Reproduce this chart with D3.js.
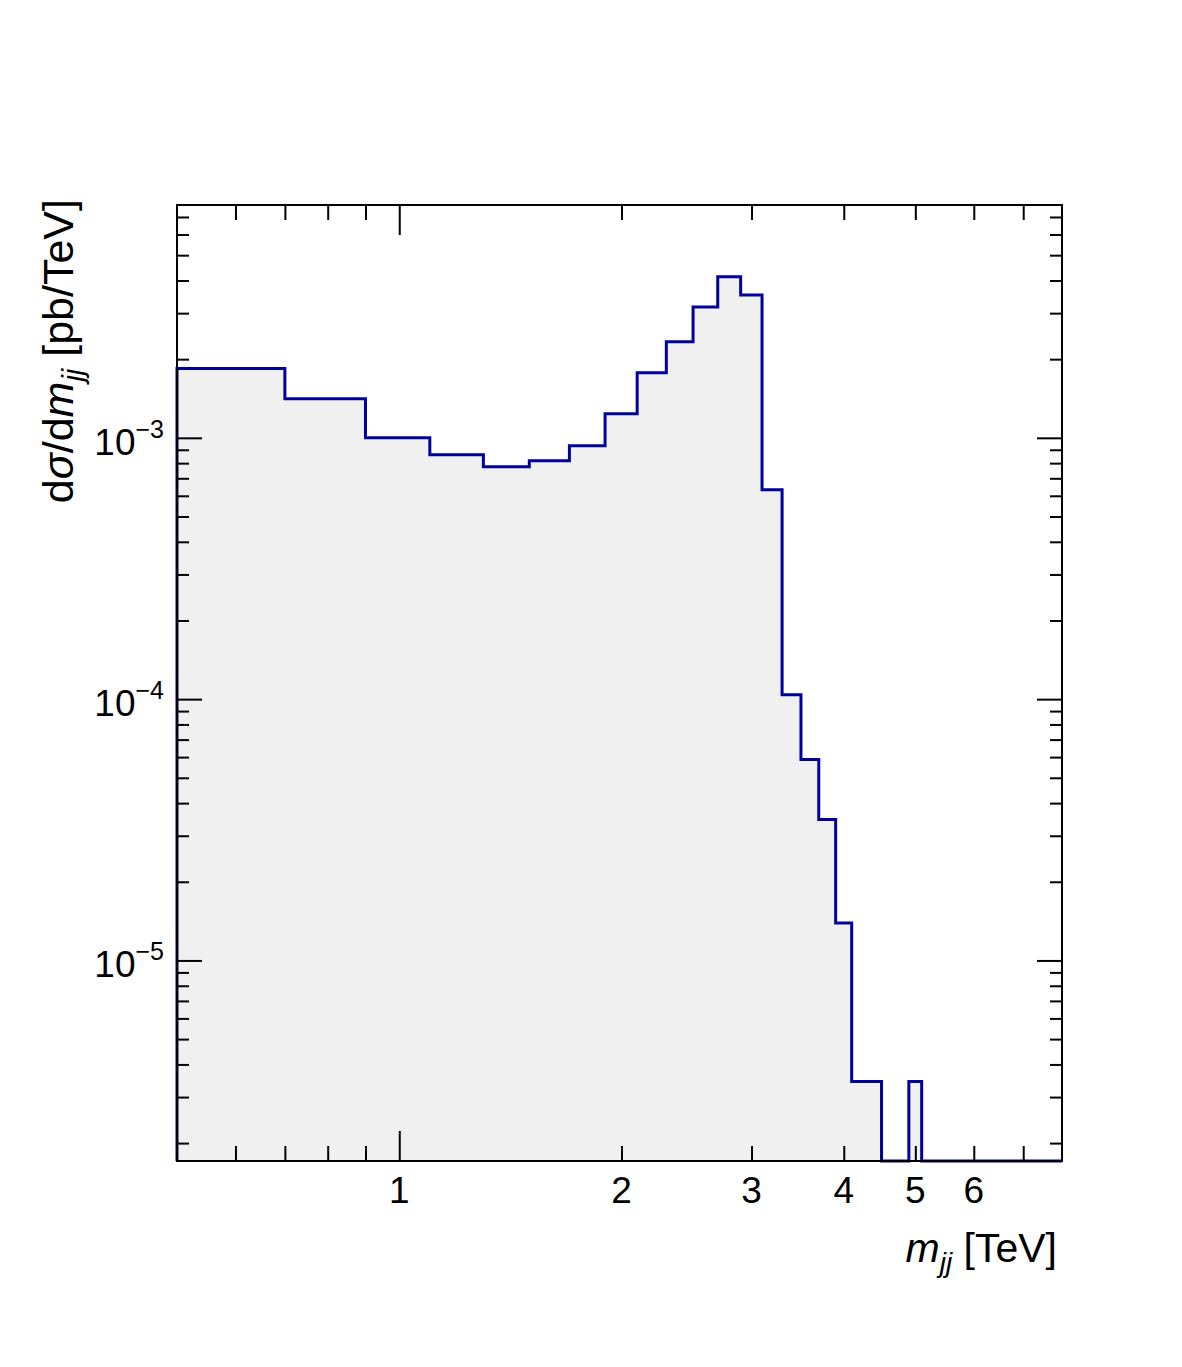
<!DOCTYPE html>
<html>
<head>
<meta charset="utf-8">
<script src="https://cdn.jsdelivr.net/npm/d3@7"></script>
<style>
  html, body { margin: 0; padding: 0; background: #fff; }
  svg { display: block; font-family: "Liberation Sans", Arial, sans-serif; }
</style>
</head>
<body>
<svg id="chart" width="1182" height="1367"></svg>
<script>
// ---- data ----
const binEdges = [0.5, 0.7, 0.9, 1.1, 1.3, 1.5, 1.7, 1.9, 2.1, 2.3, 2.5, 2.7, 2.9, 3.1, 3.3, 3.5, 3.7, 3.9, 4.1, 4.5, 4.9, 5.1, 7.9];
const binValues = [1.84e-3, 1.41e-3, 1.0e-3, 0.862e-3, 0.775e-3, 0.817e-3, 0.932e-3, 1.235e-3, 1.773e-3, 2.33e-3, 3.17e-3, 4.13e-3, 3.52e-3, 0.633e-3, 1.04e-4, 5.87e-5, 3.46e-5, 1.39e-5, 3.44e-6, 0, 3.44e-6, 0];
const xMajorTicks = [1];
const xMinorTicks = [0.6, 0.7, 0.8, 0.9, 2, 3, 4, 5, 6, 7];
const xTickLabels = [1, 2, 3, 4, 5, 6];
const yMajorTicks = [1e-5, 1e-4, 1e-3];
const yMinorTicks = [2e-6, 3e-6, 4e-6, 5e-6, 6e-6, 7e-6, 8e-6, 9e-6,
                     2e-5, 3e-5, 4e-5, 5e-5, 6e-5, 7e-5, 8e-5, 9e-5,
                     2e-4, 3e-4, 4e-4, 5e-4, 6e-4, 7e-4, 8e-4, 9e-4,
                     2e-3, 3e-3, 4e-3, 5e-3, 6e-3, 7e-3];
const yTickExponents = [-5, -4, -3];
const xDomain = [0.5, 7.9];
const yDomain = [1.708e-6, 7.78e-3];

// ---- layout ----
const L = 177, R = 1062, T = 205, B = 1161;
const svg = d3.select("#chart");
const x = d3.scaleLog().domain(xDomain).range([L, R]);
const y = d3.scaleLog().domain(yDomain).range([B, T]);

// histogram path
function yv(v) { return v > 0 ? y(v) : B; }
let pts = [[x(binEdges[0]), B]];
binValues.forEach((v, i) => {
  pts.push([x(binEdges[i]), yv(v)]);
  pts.push([x(binEdges[i + 1]), yv(v)]);
});
const lastX = x(binEdges[binEdges.length - 1]);
const line = d3.line();
svg.append("path")
  .attr("d", line(pts.concat([[lastX, B]])) + "Z")
  .attr("fill", "#f0f0f0").attr("stroke", "none");
svg.append("path")
  .attr("d", line(pts))
  .attr("fill", "none").attr("stroke", "#00009c").attr("stroke-width", 3)
  .attr("stroke-linejoin", "miter");

// axes ticks
function styleAxis(g) {
  g.select(".domain").remove();
  g.selectAll("text").remove();
  g.selectAll("line").attr("stroke", "#000").attr("stroke-width", 2);
}
const mk = (axisFn, scale, vals, size, tr) => {
  svg.append("g").attr("transform", tr)
    .call(axisFn(scale).tickValues(vals).tickSize(size).tickFormat(""))
    .call(styleAxis);
};
mk(d3.axisBottom, x, xMajorTicks, -30, `translate(0,${B})`);
mk(d3.axisBottom, x, xMinorTicks, -15, `translate(0,${B})`);
mk(d3.axisTop, x, xMajorTicks, -30, `translate(0,${T})`);
mk(d3.axisTop, x, xMinorTicks, -15, `translate(0,${T})`);
mk(d3.axisLeft, y, yMajorTicks, -25, `translate(${L},0)`);
mk(d3.axisLeft, y, yMinorTicks, -12, `translate(${L},0)`);
mk(d3.axisRight, y, yMajorTicks, -25, `translate(${R},0)`);
mk(d3.axisRight, y, yMinorTicks, -12, `translate(${R},0)`);

// frame
svg.append("rect").attr("x", L).attr("y", T).attr("width", R - L).attr("height", B - T)
  .attr("fill", "none").attr("stroke", "#000").attr("stroke-width", 2);

// x tick labels
svg.append("g").selectAll("text").data(xTickLabels).join("text")
  .attr("x", d => x(d)).attr("y", 1203)
  .attr("text-anchor", "middle").attr("font-size", 37).attr("fill", "#000")
  .text(d => d);

// y tick labels
const yl = svg.append("g").selectAll("text").data(yTickExponents).join("text")
  .attr("x", 164).attr("y", d => y(Math.pow(10, d)) + 17)
  .attr("text-anchor", "end").attr("font-size", 37).attr("fill", "#000");
yl.append("tspan").text("10");
yl.append("tspan").attr("font-size", 25).attr("dy", -17).text(d => "\u2212" + Math.abs(d));

// x title
const xt = svg.append("text").attr("x", 1057).attr("y", 1262)
  .attr("text-anchor", "end").attr("font-size", 41).attr("fill", "#000");
xt.append("tspan").attr("font-style", "italic").text("m");
xt.append("tspan").attr("font-style", "italic").attr("font-size", 28).attr("dy", 10).text("jj");
xt.append("tspan").attr("dy", -10).text(" [TeV]");

// y title
const yt = svg.append("text").attr("transform", `translate(73,199) rotate(-90)`)
  .attr("text-anchor", "end").attr("font-size", 43).attr("fill", "#000");
yt.append("tspan").text("d");
yt.append("tspan").attr("font-style", "italic").text("\u03C3");
yt.append("tspan").text("/d");
yt.append("tspan").attr("font-style", "italic").text("m");
yt.append("tspan").attr("font-style", "italic").attr("font-size", 29).attr("dy", 10).text("jj");
yt.append("tspan").attr("dy", -10).text(" [pb/TeV]");
</script>
</body>
</html>
